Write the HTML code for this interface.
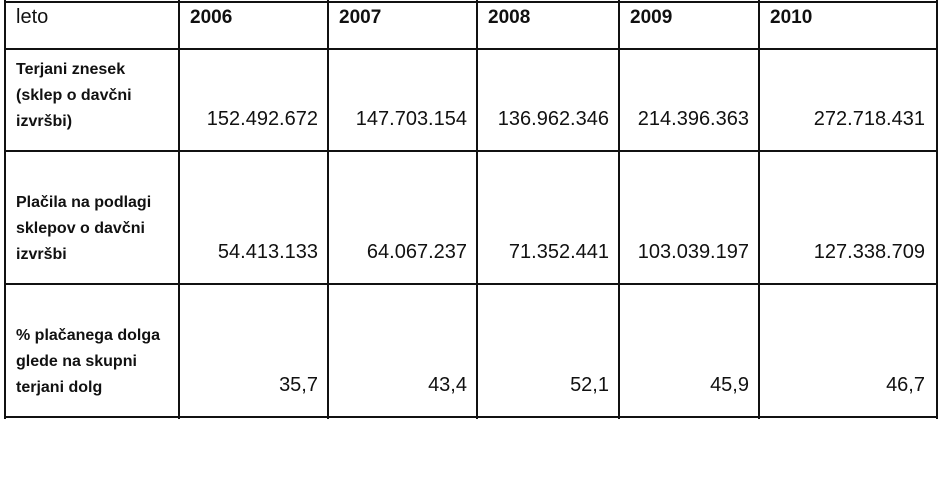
<!DOCTYPE html>
<html><head><meta charset="utf-8"><style>
body{margin:0;width:943px;height:496px;background:#fff;position:relative;overflow:hidden;font-family:"Liberation Sans",Arial,sans-serif;color:#111}
.h{position:absolute;height:2px;background:#111;left:5px;width:933px}
.v{position:absolute;width:2px;background:#111;top:0;height:419px}
.t{position:absolute;white-space:nowrap}
.y{font-weight:bold;font-size:19px;top:7px}
.l{font-weight:bold;font-size:16px;line-height:26px;left:16px}
.n{font-size:20px;text-align:right}
</style></head><body>
<div class="h" style="top:1px"></div>
<div class="h" style="top:48px"></div>
<div class="h" style="top:150px"></div>
<div class="h" style="top:283px"></div>
<div class="h" style="top:416px"></div>
<div class="v" style="left:4px"></div>
<div class="v" style="left:178px"></div>
<div class="v" style="left:327px"></div>
<div class="v" style="left:476px"></div>
<div class="v" style="left:618px"></div>
<div class="v" style="left:758px"></div>
<div class="v" style="left:936px"></div>
<div class="t" style="left:16px;top:6px;font-size:20px">leto</div>
<div class="t y" style="left:190px">2006</div>
<div class="t y" style="left:339px">2007</div>
<div class="t y" style="left:488px">2008</div>
<div class="t y" style="left:630px">2009</div>
<div class="t y" style="left:770px">2010</div>
<div class="t l" style="top:57px">Terjani znesek<br>(sklep o davčni<br>izvršbi)</div>
<div class="t l" style="top:190px">Plačila na podlagi<br>sklepov o davčni<br>izvršbi</div>
<div class="t l" style="top:323px">% plačanega dolga<br>glede na skupni<br>terjani dolg</div>
<div class="t n" style="right:625px;top:108px">152.492.672</div>
<div class="t n" style="right:476px;top:108px">147.703.154</div>
<div class="t n" style="right:334px;top:108px">136.962.346</div>
<div class="t n" style="right:194px;top:108px">214.396.363</div>
<div class="t n" style="right:18px;top:108px">272.718.431</div>
<div class="t n" style="right:625px;top:241px">54.413.133</div>
<div class="t n" style="right:476px;top:241px">64.067.237</div>
<div class="t n" style="right:334px;top:241px">71.352.441</div>
<div class="t n" style="right:194px;top:241px">103.039.197</div>
<div class="t n" style="right:18px;top:241px">127.338.709</div>
<div class="t n" style="right:625px;top:374px">35,7</div>
<div class="t n" style="right:476px;top:374px">43,4</div>
<div class="t n" style="right:334px;top:374px">52,1</div>
<div class="t n" style="right:194px;top:374px">45,9</div>
<div class="t n" style="right:18px;top:374px">46,7</div>
</body></html>
